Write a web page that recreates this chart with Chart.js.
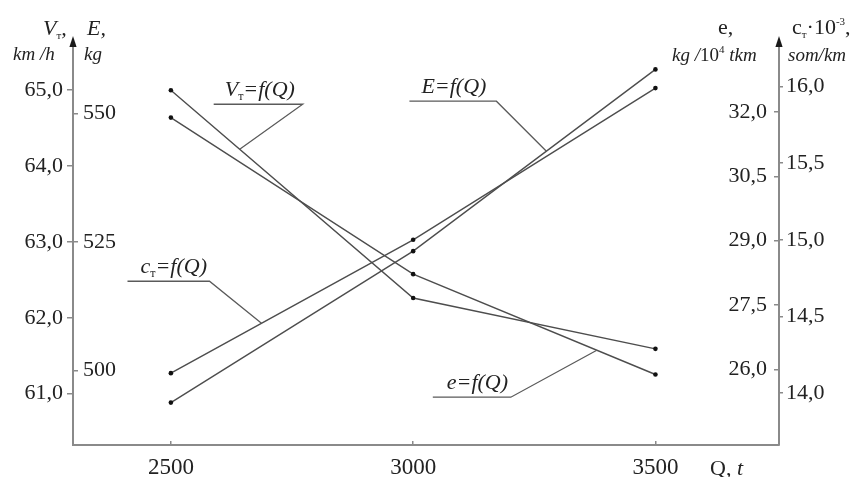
<!DOCTYPE html>
<html>
<head>
<meta charset="utf-8">
<script src="https://cdn.jsdelivr.net/npm/chart.js@4.4.0/dist/chart.umd.min.js"></script>
<style>
  html, body { margin: 0; padding: 0; background: #fff; }
  #wrap { width: 857px; height: 477px; }
</style>
</head>
<body>
<div id="wrap"><canvas id="qChart" width="857" height="477"></canvas></div>
<script>
// Q, t
const loads = [2500, 3000, 3500];
// V_т, km/h
const speedV = [65.0, 62.26, 61.59];
// E, kg
const fuelE = [493.7, 523.2, 558.6];
// e, kg/10^4 tkm
const specE = [31.87, 28.22, 25.88];
// c_т·10^-3, som/km
const costC = [14.13, 15.0, 15.99];

const ticksQ = [2500, 3000, 3500];
const ticksV = [61, 62, 63, 64, 65];
const ticksE = [500, 525, 550];
const ticksSpec = [26, 27.5, 29, 30.5, 32];
const ticksC = [14, 14.5, 15, 15.5, 16];

const SERIF = '"Liberation Serif", "Times New Roman", serif';
const AXIS_GREY = '#8a8a8a';
const LINE_GREY = '#4d4d4d';
const TEXT = '#222';

const comma = v => Number(v).toFixed(1).replace('.', ',');

function series(label, values, axis) {
  return {
    label: label,
    data: loads.map((q, i) => ({ x: q, y: values[i] })),
    yAxisID: axis,
    borderColor: LINE_GREY,
    borderWidth: 1.4,
    pointRadius: 2.3,
    pointBackgroundColor: '#111',
    pointBorderWidth: 0,
    tension: 0,
    fill: false,
  };
}

function yAxis(pos, weight, min, max, list, fmt, opts) {
  return {
    type: 'linear',
    position: pos,
    weight: weight,
    min: min,
    max: max,
    afterBuildTicks: s => { s.ticks = list.map(v => ({ value: v })); },
    afterFit: s => { s.width = opts.width; },
    grid: { drawOnChartArea: false, drawTicks: true, tickLength: opts.tick, color: AXIS_GREY, lineWidth: 1.5 },
    border: { display: opts.border, color: AXIS_GREY, width: 2 },
    ticks: {
      mirror: opts.mirror,
      padding: opts.pad,
      color: TEXT,
      font: { family: SERIF, size: 22 },
      callback: fmt,
    },
  };
}

// leader labels: text on an underline, joined to a point of its curve
const notes = [
  { axis: 'yV', values: speedV, q: 2642, elbow: [63, -45], under: 89, textDx: 11,
    parts: [{ t: 'V', i: 1 }, { t: 'т', s: 12, dy: 4 }, { t: '=f(Q)', i: 1 }] },
  { axis: 'yE', values: fuelE, q: 3275, elbow: [-50, -50], under: 87, textDx: 12,
    parts: [{ t: 'E=f(Q)', i: 1 }] },
  { axis: 'yC', values: costC, q: 2687, elbow: [-52, -42], under: 82, textDx: 13,
    parts: [{ t: 'c', i: 1 }, { t: 'т', s: 12, dy: 4 }, { t: '=f(Q)', i: 1 }] },
  { axis: 'ySpec', values: specE, q: 3379, elbow: [-86, 47], under: 78, textDx: 14,
    parts: [{ t: 'e=f(Q)', i: 1 }] },
];

function richText(ctx, x, y, parts) {
  let cx = x;
  parts.forEach(p => {
    ctx.font = (p.i ? 'italic ' : '') + (p.s || 22) + 'px ' + SERIF;
    ctx.fillText(p.t, cx, y + (p.dy || 0));
    cx += ctx.measureText(p.t).width;
  });
  return cx - x;
}

function pointOn(chart, note) {
  const xs = chart.scales.x;
  const ys = chart.scales[note.axis];
  let i = 0;
  while (i < loads.length - 2 && note.q > loads[i + 1]) i++;
  const x0 = xs.getPixelForValue(loads[i]), x1 = xs.getPixelForValue(loads[i + 1]);
  const y0 = ys.getPixelForValue(note.values[i]), y1 = ys.getPixelForValue(note.values[i + 1]);
  const px = xs.getPixelForValue(note.q);
  return [px, y0 + (y1 - y0) * (px - x0) / (x1 - x0)];
}

const notePlugin = {
  id: 'notePlugin',
  afterDraw(chart) {
    const ctx = chart.ctx;
    const area = chart.chartArea;
    ctx.save();
    ctx.textAlign = 'left';
    ctx.textBaseline = 'alphabetic';

    // arrow heads on the two vertical axes
    ctx.fillStyle = '#1a1a1a';
    [area.left, area.right].forEach(ax => {
      ctx.beginPath();
      ctx.moveTo(ax, 36);
      ctx.lineTo(ax - 3.6, 47);
      ctx.lineTo(ax + 3.6, 47);
      ctx.closePath();
      ctx.fill();
    });

    // axis titles
    ctx.fillStyle = TEXT;
    richText(ctx, 43, 35, [{ t: 'V', i: 1 }, { t: 'т', s: 11, dy: 4 }, { t: ',', i: 1 }]);
    richText(ctx, 13, 60, [{ t: 'km /h', i: 1, s: 19 }]);
    richText(ctx, 87, 35, [{ t: 'E,', i: 1 }]);
    richText(ctx, 84, 60, [{ t: 'kg', i: 1, s: 19 }]);
    richText(ctx, 718, 34, [{ t: 'e,' }]);
    richText(ctx, 672, 61, [{ t: 'kg /', i: 1, s: 19 }, { t: '10', s: 19 }, { t: '4', s: 11, dy: -8 }, { t: ' tkm', i: 1, s: 19 }]);
    richText(ctx, 792, 34, [{ t: 'c' }, { t: 'т', s: 11, dy: 4 }, { t: '·10' }, { t: '-3', s: 11, dy: -9 }, { t: ',' }]);
    richText(ctx, 788, 61, [{ t: 'som/km', i: 1, s: 19 }]);
    richText(ctx, 710, 475, [{ t: 'Q, ' }, { t: 't', i: 1 }]);

    // leader labels
    ctx.strokeStyle = '#5a5a5a';
    ctx.lineWidth = 1.3;
    notes.forEach(n => {
      const [ax, ay] = pointOn(chart, n);
      const ex = ax + n.elbow[0], ey = ay + n.elbow[1];
      ctx.beginPath();
      ctx.moveTo(ax, ay);
      ctx.lineTo(ex, ey);
      ctx.lineTo(ex - n.under, ey);
      ctx.stroke();
      richText(ctx, ex - n.under + n.textDx, ey - 8, n.parts);
    });
    ctx.restore();
  },
};

const ctx = document.getElementById('qChart').getContext('2d');
new Chart(ctx, {
  type: 'line',
  data: {
    datasets: [
      series('V=f(Q)', speedV, 'yV'),
      series('E=f(Q)', fuelE, 'yE'),
      series('e=f(Q)', specE, 'ySpec'),
      series('c=f(Q)', costC, 'yC'),
    ],
  },
  options: {
    responsive: false,
    animation: false,
    devicePixelRatio: 1,
    layout: { padding: { top: 40, left: 0, right: 0, bottom: 0 } },
    plugins: { legend: { display: false }, tooltip: { enabled: false } },
    scales: {
      x: {
        type: 'linear',
        min: 2298,
        max: 3755,
        afterBuildTicks: s => { s.ticks = ticksQ.map(v => ({ value: v })); },
        afterFit: s => { s.height = 32; },
        grid: { drawOnChartArea: false, drawTicks: true, tickLength: -4, color: AXIS_GREY, lineWidth: 1.5 },
        border: { color: AXIS_GREY, width: 2 },
        ticks: {
          color: TEXT,
          padding: 13,
          maxRotation: 0,
          autoSkip: false,
          font: { family: SERIF, size: 23 },
          callback: v => String(v),
        },
      },
      yV: yAxis('left', 1, 60.322, 65.662, ticksV, comma, { width: 73, tick: 6, pad: 4, mirror: false, border: true }),
      yE: yAxis('left', 0, 485.44, 564.33, ticksE, v => String(v), { width: 0, tick: -5, pad: 10, mirror: true, border: false }),
      ySpec: yAxis('right', 0, 24.236, 33.679, ticksSpec, comma, { width: 0, tick: -5, pad: -12, mirror: true, border: false }),
      yC: yAxis('right', 1, 13.661, 16.304, ticksC, comma, { width: 78, tick: 4, pad: 3, mirror: false, border: true }),
    },
  },
  plugins: [notePlugin],
});
</script>
</body>
</html>
